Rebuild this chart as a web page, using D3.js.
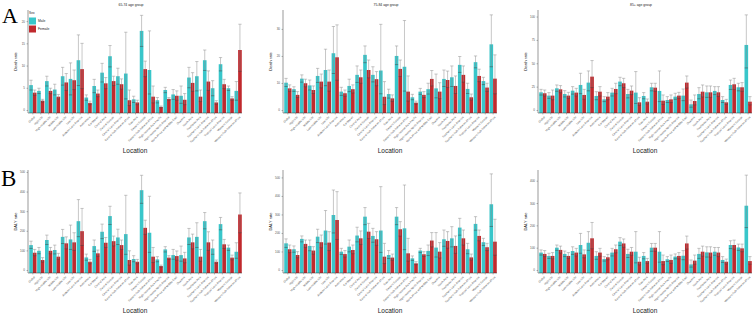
<!DOCTYPE html>
<html>
<head>
<meta charset="utf-8">
<script src="https://cdn.jsdelivr.net/npm/d3@7"></script>
<style>
  body { margin: 0; background: #fff; }
  svg { display: block; }
  svg text { font-family: "Liberation Sans", Arial, sans-serif; }
  .tick text { fill: #555; }
  .tick line { stroke: #555; stroke-width: 0.4; }
</style>
</head>
<body>
<div id="chart"></div>
<script>
// data

var locations = ["Global","High SDI","High-middle SDI","Middle SDI","Low-middle SDI","Low SDI",
  "Andean Latin America","Australasia","Caribbean","Central Asia","Central Europe",
  "Central Latin America","Central Sub-Saharan Africa","East Asia","Eastern Europe",
  "Eastern Sub-Saharan Africa","High-income Asia Pacific","High-income North America",
  "North Africa and Middle East","Oceania","South Asia","Southeast Asia","Southern Latin America",
  "Southern Sub-Saharan Africa","Tropical Latin America","Western Europe","Western Sub-Saharan Africa"]
var sexes = ["Male","Female"]
var ageTitles = ["65-74 age group","75-84 age group","85+ age group"]
var measures = ["Death rate","DALY rate"]

var deathTicks65 = [0,5,10,15,20]
var deathTicks75 = [0,10,20,30]
var deathTicks85 = [0,25,50,75,100]
var dalyTicks65 = [0,100,200,300,400,500]
var dalyTicks75 = [0,100,200,300,400,500]
var dalyTicks85 = [0,100,200,300,400]

// death rate 65-74
var deathMale65   = [5.6,4.3,6.5,4.6,7.6,7.0,11.2,2.8,5.4,8.4,12.1,7.6,8.2,2.4,17.8,9.0,2.2,4.5,3.5,3.2,7.3,7.6,11.2,4.9,10.3,4.9,4.3]
var deathMale65Hi = [6.7,4.9,7.6,5.8,9.6,10.6,16.9,3.4,6.9,10.5,14.5,9.4,17.5,3.1,21.3,17.8,2.8,5.1,4.6,5.4,9.6,10.9,13.5,6.6,11.8,5.4,6.4]
var deathMale65Lo = [4.5,3.7,5.4,3.4,5.6,3.4,5.5,2.2,3.9,6.3,9.7,5.8,2.5,1.7,14.3,3.6,1.6,3.9,2.4,1.5,5.0,4.3,8.9,3.2,8.8,4.4,2.2]
var deathFemale65   = [3.9,2.1,4.3,3.0,6.2,6.7,9.2,1.6,3.7,6.0,6.5,5.8,2.2,1.7,9.2,3.0,0.7,2.5,3.2,2.3,6.1,3.0,6.4,1.7,5.8,2.6,13.5]
var deathFemale65Hi = [4.5,2.4,4.9,3.5,8.2,9.0,15.0,2.0,4.5,7.3,7.6,7.0,4.5,2.2,11.0,5.4,0.9,2.8,4.3,3.7,8.4,4.5,8.8,2.1,6.9,3.0,19.3]
var deathFemale65Lo = [3.3,1.8,3.7,2.5,4.4,4.6,4.8,1.2,3.0,4.8,5.5,4.7,1.0,1.2,7.5,1.6,0.5,2.2,2.2,1.2,4.2,1.9,4.4,1.3,4.8,2.2,8.7]

// death rate 75-84
var deathMale75   = [10.1,7.7,11.6,9.1,12.6,14.8,21.0,6.8,8.9,13.0,20.4,13.0,14.6,5.9,20.0,16.0,4.7,6.8,7.7,8.0,11.5,12.1,16.7,7.8,17.7,10.7,24.3]
var deathMale75Hi = [11.7,8.6,13.0,11.1,15.4,22.5,30.9,8.4,11.4,16.3,23.7,16.0,31.7,7.7,23.7,33.1,5.8,8.0,9.9,13.3,14.8,16.3,19.8,9.9,20.0,12.1,35.2]
var deathMale75Lo = [8.7,6.9,10.3,7.4,10.2,9.0,13.5,5.4,6.8,10.2,17.5,10.4,6.0,4.4,16.8,7.0,3.8,5.8,5.9,4.5,8.7,8.7,13.9,6.1,15.6,9.4,16.0]
var deathFemale75   = [8.0,5.6,9.9,7.4,10.5,10.5,19.5,6.2,7.7,12.1,14.8,11.4,4.9,4.3,15.2,6.8,2.7,5.6,11.5,6.8,11.1,8.9,13.0,4.7,12.6,8.3,11.6]
var deathFemale75Hi = [9.3,6.8,11.4,8.9,13.3,14.8,31.5,7.4,9.3,14.8,18.5,14.2,10.5,5.6,18.5,12.6,3.3,6.8,14.6,10.1,14.4,12.6,16.3,5.9,15.1,9.9,20.4]
var deathFemale75Lo = [6.9,4.6,8.6,6.1,8.2,7.0,11.0,5.1,6.3,9.9,11.9,9.0,2.0,3.2,12.4,3.3,2.2,4.6,8.9,4.2,8.3,6.1,10.3,3.7,10.5,6.9,6.0]

// death rate 85+
var deathMale85   = [18.9,15.4,23.2,17.1,20.7,26.8,29.3,15.0,11.4,18.6,30.4,17.1,18.6,15.0,24.3,20.4,10.7,14.3,15.4,6.1,17.1,18.9,20.4,10.7,26.8,24.3,69.6]
var deathMale85Hi = [22.1,18.6,26.8,20.7,25.0,39.3,41.8,19.6,14.3,23.2,35.0,22.1,41.1,18.6,28.6,41.8,14.3,17.9,22.5,10.7,23.9,25.7,25.0,14.3,32.1,28.6,101.8]
var deathMale85Lo = [16.0,12.5,20.0,14.0,17.0,17.5,20.5,11.0,9.0,15.0,26.0,13.0,7.0,12.0,20.5,9.0,8.0,11.5,10.0,3.0,12.0,13.5,16.5,8.0,22.0,20.5,45.0]
var deathFemale85   = [17.9,15.4,22.1,15.4,18.6,16.1,35.7,19.6,14.3,22.5,28.6,20.7,8.2,8.9,23.9,10.0,11.4,15.4,29.3,9.6,19.6,18.9,18.9,8.2,27.5,24.3,8.9]
var deathFemale85Hi = [21.4,21.4,26.1,18.9,23.2,22.1,52.9,25.0,18.6,28.6,33.9,25.7,13.2,11.8,28.6,16.1,16.1,18.9,36.4,16.1,26.8,25.7,25.0,11.4,33.9,29.3,14.3]
var deathFemale85Lo = [15.0,11.0,18.5,12.5,15.0,11.5,24.0,15.0,11.0,17.5,24.0,16.5,5.0,6.5,20.0,6.0,8.0,12.5,23.5,5.5,14.0,13.5,14.5,6.0,22.0,20.0,5.5]

// DALY rate 65-74
var dalyMale65   = [127,98,153,102,169,156,249,64,122,195,275,166,183,56,407,190,54,105,76,76,166,169,249,110,234,114,93]
var dalyMale65Hi = [147,115,178,127,207,229,359,81,153,234,325,208,381,73,483,376,68,119,105,122,212,241,293,153,268,127,139]
var dalyMale65Lo = [110,83,130,82,135,105,170,50,95,160,232,130,80,42,340,90,42,92,55,45,130,115,210,80,205,100,60]
var dalyFemale65   = [88,51,98,68,136,141,198,42,85,139,147,127,51,42,215,68,20,63,71,59,141,68,141,42,131,63,283]
var dalyFemale65Hi = [105,63,115,85,169,190,314,54,102,166,173,153,98,54,254,115,25,73,97,90,183,105,195,51,156,76,393]
var dalyFemale65Lo = [73,41,83,55,108,100,125,32,70,115,123,105,25,32,182,38,15,54,50,37,108,45,100,34,110,52,190]

// DALY rate 75-84
var dalyMale75   = [144,112,168,130,180,213,297,99,126,186,288,184,213,81,288,225,63,105,103,121,166,171,229,112,249,150,355]
var dalyMale75Hi = [168,130,184,162,220,321,432,117,162,231,337,225,450,105,337,459,76,117,135,202,216,234,279,144,288,171,519]
var dalyMale75Lo = [122,96,152,104,148,140,200,84,98,152,245,150,95,62,245,110,52,94,78,70,128,125,188,88,215,132,235]
var dalyFemale75   = [112,81,141,105,150,148,270,86,108,171,207,166,72,67,220,90,36,85,159,99,157,130,171,68,184,123,153]
var dalyFemale75Hi = [135,99,162,126,189,207,423,105,135,211,252,207,144,86,261,171,45,99,202,148,207,184,216,86,216,144,274]
var dalyFemale75Lo = [94,66,122,86,120,105,165,70,88,138,170,133,35,53,183,48,29,73,125,65,118,90,135,54,158,105,80]

// DALY rate 85+
var dalyMale85   = [78,63,100,72,85,112,122,63,49,78,127,72,82,63,100,82,48,60,64,25,72,79,82,45,112,101,288]
var dalyMale85Hi = [90,75,112,85,104,164,172,82,60,97,145,93,172,78,119,172,60,72,87,45,97,104,101,60,131,116,425]
var dalyMale85Lo = [67,52,88,60,70,75,88,48,40,63,110,56,32,50,84,35,38,50,46,13,52,58,66,34,96,88,190]
var dalyFemale85   = [72,63,90,63,78,70,142,78,57,93,119,82,37,40,100,40,45,63,119,42,82,78,78,37,112,97,40]
var dalyFemale85Hi = [87,78,107,78,97,90,213,97,70,112,139,101,57,52,119,67,67,78,152,67,107,104,101,49,134,116,60]
var dalyFemale85Lo = [60,50,76,52,63,55,95,62,46,77,102,66,23,30,84,24,30,50,94,26,62,58,60,27,94,82,26]

// layout

var W = 753, H = 316
var colX = [28, 283, 538]      // y axis position of each column
var plotW = 214
var rowTop = [10, 170], rowZero = [110, 270], rowBottom = [113, 273]
var colors = {Male: "#38c6ca", Female: "#c0292d"}

var panels = [
  {row:0,col:0,top:22.5,ticks:deathTicks65,m:[deathMale65,deathMale65Lo,deathMale65Hi],f:[deathFemale65,deathFemale65Lo,deathFemale65Hi]},
  {row:0,col:1,top:37,ticks:deathTicks75,m:[deathMale75,deathMale75Lo,deathMale75Hi],f:[deathFemale75,deathFemale75Lo,deathFemale75Hi]},
  {row:0,col:2,top:107,ticks:deathTicks85,m:[deathMale85,deathMale85Lo,deathMale85Hi],f:[deathFemale85,deathFemale85Lo,deathFemale85Hi]},
  {row:1,col:0,top:510,ticks:dalyTicks65,m:[dalyMale65,dalyMale65Lo,dalyMale65Hi],f:[dalyFemale65,dalyFemale65Lo,dalyFemale65Hi]},
  {row:1,col:1,top:540,ticks:dalyTicks75,m:[dalyMale75,dalyMale75Lo,dalyMale75Hi],f:[dalyFemale75,dalyFemale75Lo,dalyFemale75Hi]},
  {row:1,col:2,top:448,ticks:dalyTicks85,m:[dalyMale85,dalyMale85Lo,dalyMale85Hi],f:[dalyFemale85,dalyFemale85Lo,dalyFemale85Hi]}
]

var svg = d3.select("#chart").append("svg").attr("width",W).attr("height",H)
svg.append("rect").attr("width",W).attr("height",H).attr("fill","#fff")

panels.forEach(drawPanel)

function drawPanel(p){
  var x0 = colX[p.col]
  var g = svg.append("g")

  var x = d3.scaleBand().domain(locations).range([x0+1, x0+plotW]).paddingInner(0.08).paddingOuter(0.03)
  var xs = d3.scaleBand().domain(sexes).range([0, x.bandwidth()])
  var y = d3.scaleLinear().domain([0,p.top]).range([rowZero[p.row], rowTop[p.row]])

  var rows = []
  locations.forEach(function(loc,i){
    rows.push({loc:loc, sex:"Male", v:p.m[0][i], lo:p.m[1][i], hi:p.m[2][i]})
    rows.push({loc:loc, sex:"Female", v:p.f[0][i], lo:p.f[1][i], hi:p.f[2][i]})
  })

  g.selectAll(".bar").data(rows).enter().append("rect")
    .attr("x",function(d){ return x(d.loc)+xs(d.sex) })
    .attr("width",xs.bandwidth())
    .attr("y",function(d){ return y(d.v) })
    .attr("height",function(d){ return rowBottom[p.row]-y(d.v) })
    .attr("fill",function(d){ return colors[d.sex] })

  var cap = xs.bandwidth()*0.45
  var eb = g.selectAll(".eb").data(rows).enter().append("g")
    .attr("stroke","#8f8f8f").attr("stroke-width",0.5)
  eb.append("line")
    .attr("x1",function(d){ return x(d.loc)+xs(d.sex)+xs.bandwidth()/2 })
    .attr("x2",function(d){ return x(d.loc)+xs(d.sex)+xs.bandwidth()/2 })
    .attr("y1",function(d){ return y(d.lo) })
    .attr("y2",function(d){ return y(d.hi) })
  eb.append("line")
    .attr("x1",function(d){ return x(d.loc)+xs(d.sex)+xs.bandwidth()/2-cap })
    .attr("x2",function(d){ return x(d.loc)+xs(d.sex)+xs.bandwidth()/2+cap })
    .attr("y1",function(d){ return y(d.hi) }).attr("y2",function(d){ return y(d.hi) })
  eb.append("line")
    .attr("stroke","#444")
    .attr("x1",function(d){ return x(d.loc)+xs(d.sex)+xs.bandwidth()/2-cap })
    .attr("x2",function(d){ return x(d.loc)+xs(d.sex)+xs.bandwidth()/2+cap })
    .attr("y1",function(d){ return y(d.lo) }).attr("y2",function(d){ return y(d.lo) })

  // axes
  var yAxis = g.append("g").attr("transform","translate("+x0+",0)")
    .call(d3.axisLeft(y).tickValues(p.ticks).tickSize(1.5).tickPadding(1.5))
  yAxis.attr("font-family",null)
  yAxis.select(".domain").remove()
  yAxis.selectAll("text").style("font-size","3px")

  var xAxis = g.append("g").attr("transform","translate(0,"+rowBottom[p.row]+")")
    .call(d3.axisBottom(x).tickSize(1.5).tickPadding(1))
  xAxis.attr("font-family",null)
  xAxis.select(".domain").remove()
  xAxis.selectAll("text")
    .style("font-size","2.8px")
    .attr("text-anchor","end")
    .attr("dy","0.3em")
    .attr("transform","translate(0,2) rotate(-45)")

  g.append("line").attr("x1",x0).attr("x2",x0)
    .attr("y1",rowTop[p.row]).attr("y2",rowBottom[p.row])
    .attr("stroke","#333").attr("stroke-width",0.5)
  g.append("line").attr("x1",x0).attr("x2",x0+plotW)
    .attr("y1",rowBottom[p.row]).attr("y2",rowBottom[p.row])
    .attr("stroke","#333").attr("stroke-width",0.5)

  // titles
  g.append("text").attr("x",x0-11).attr("y",(rowTop[p.row]+rowBottom[p.row])/2)
    .attr("transform","rotate(-90,"+(x0-11)+","+((rowTop[p.row]+rowBottom[p.row])/2)+")")
    .attr("text-anchor","middle").style("font-size","4px").attr("fill","#222")
    .text(measures[p.row])
  g.append("text").attr("x",x0+plotW/2).attr("y",rowBottom[p.row]+40)
    .attr("text-anchor","middle").style("font-size","6.5px").attr("fill","#222")
    .text("Location")
  if(p.row==0){
    g.append("text").attr("x",x0+plotW/2 - 4).attr("y",6)
      .attr("text-anchor","middle").style("font-size","3.4px").attr("fill","#222")
      .text(ageTitles[p.col])
  }
}

// legend
var lg = svg.append("g")
lg.append("text").attr("x",29).attr("y",14).style("font-size","3.2px").attr("fill","#222").text("Sex")
sexes.forEach(function(s,i){
  lg.append("rect").attr("x",29).attr("y",17.5+i*8).attr("width",7).attr("height",7).attr("fill",colors[s])
  lg.append("text").attr("x",38).attr("y",22+i*8).style("font-size","3.4px").attr("fill","#222").text(s)
})

// panel letters
svg.append("text").attr("x",2).attr("y",23).style("font-family","'Liberation Serif', serif")
  .style("font-size","22px").text("A")
svg.append("text").attr("x",1).attr("y",186).style("font-family","'Liberation Serif', serif")
  .style("font-size","23px").text("B")
</script>
</body>
</html>
